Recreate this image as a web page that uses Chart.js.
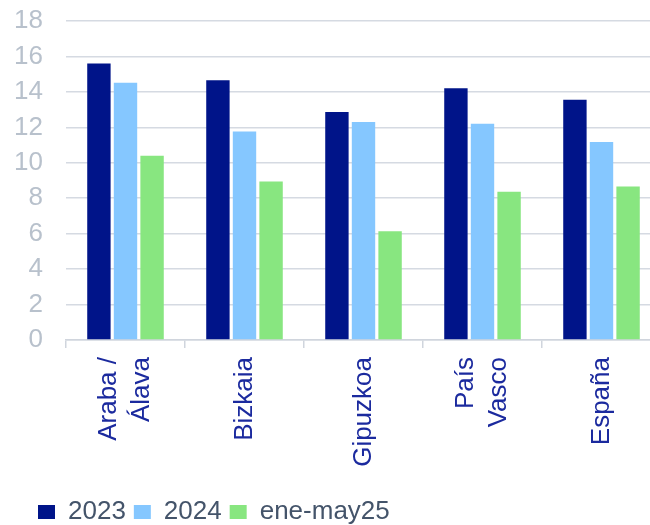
<!DOCTYPE html>
<html>
<head>
<meta charset="utf-8">
<script src="https://cdn.jsdelivr.net/npm/chart.js@4"></script>
<style>
    html, body { margin: 0; padding: 0; background: #ffffff; overflow: hidden; }
    #wrap { width: 662px; height: 535px; }
</style>
</head>
<body>
<div id="wrap"><canvas id="ratesChart"></canvas></div>
<script>
const categories = [['Araba /', 'Álava'], 'Bizkaia', 'Gipuzkoa', ['País', 'Vasco'], 'España'];
const seriesNames = ['2023', '2024', 'ene-may25'];
const values2023 = [15.6, 14.66, 12.86, 14.21, 13.55];
const values2024 = [14.51, 11.77, 12.3, 12.2, 11.17];
const valuesEneMay25 = [10.39, 8.94, 6.13, 8.36, 8.66];
const yTicks = [0, 2, 4, 6, 8, 10, 12, 14, 16, 18];

const seriesColors = ['#001489', '#85C7FF', '#88E680']; // navy, light blue, green
const xFontSize = 26;
const xLineHeight = 1.25;

Chart.defaults.font.family = "'Liberation Sans', Arial, sans-serif";

const chartData = {
    labels: categories,
    datasets: [values2023, values2024, valuesEneMay25].map((vals, i) => ({
        label: seriesNames[i],
        data: vals,
        backgroundColor: seriesColors[i],
        categoryPercentage: 0.67,
        barPercentage: 0.88,
    }))
};

// nudge the legend right and center two-line x labels on their tick
const layoutTweaks = {
    id: 'layoutTweaks',
    afterLayout(chart) {
        if (chart.legend) {
            chart.legend.left += 20;
            chart.legend.right += 20;
        }
    },
    beforeDraw(chart) {
        const xScale = chart.scales.x;
        const items = xScale.getLabelItems(chart.chartArea);
        items.forEach(item => {
            if (Array.isArray(item.label)) {
                const shift = (item.label.length - 1) * xFontSize * xLineHeight / 2;
                item.options.translation = [item.options.translation[0] - shift, item.options.translation[1]];
            }
        });
    }
};

const ctx = document.getElementById('ratesChart').getContext('2d');
new Chart(ctx, {
    type: 'bar',
    data: chartData,
    plugins: [layoutTweaks],
    options: {
        responsive: true,
        maintainAspectRatio: false,
        animation: false,
        layout: {
            padding: { left: 10, top: 0, right: 1, bottom: 0 }
        },
        scales: {
            x: {
                afterFit: function(scale) { scale.height = 151; },
                border: { color: '#D0D5DD', width: 1.5 },
                grid: {
                    drawOnChartArea: false,
                    drawTicks: true,
                    tickLength: 8,
                    color: '#D0D5DD',
                    lineWidth: 1.5
                },
                ticks: {
                    maxRotation: 90,
                    minRotation: 90,
                    padding: 9,
                    color: '#1B2A9E',
                    font: { size: xFontSize, lineHeight: xLineHeight }
                }
            },
            y: {
                min: 0,
                max: 18,
                afterFit: function(scale) {
                    scale.width = 56;
                    scale.paddingTop = 21;
                    scale.paddingBottom = 0;
                },
                afterBuildTicks: function(scale) {
                    scale.ticks = yTicks.map(v => ({ value: v }));
                },
                border: { display: false },
                grid: {
                    color: '#D5DAE2',
                    lineWidth: 1.5,
                    drawTicks: false
                },
                ticks: {
                    autoSkip: false,
                    padding: 23,
                    color: '#B8C1CC',
                    font: { size: 26 }
                }
            }
        },
        plugins: {
            legend: {
                position: 'bottom',
                align: 'start',
                labels: {
                    boxWidth: 17,
                    boxHeight: 14,
                    padding: 8,
                    color: '#44546A',
                    font: { size: 26 }
                }
            },
            tooltip: { enabled: false }
        }
    }
});
</script>
</body>
</html>
